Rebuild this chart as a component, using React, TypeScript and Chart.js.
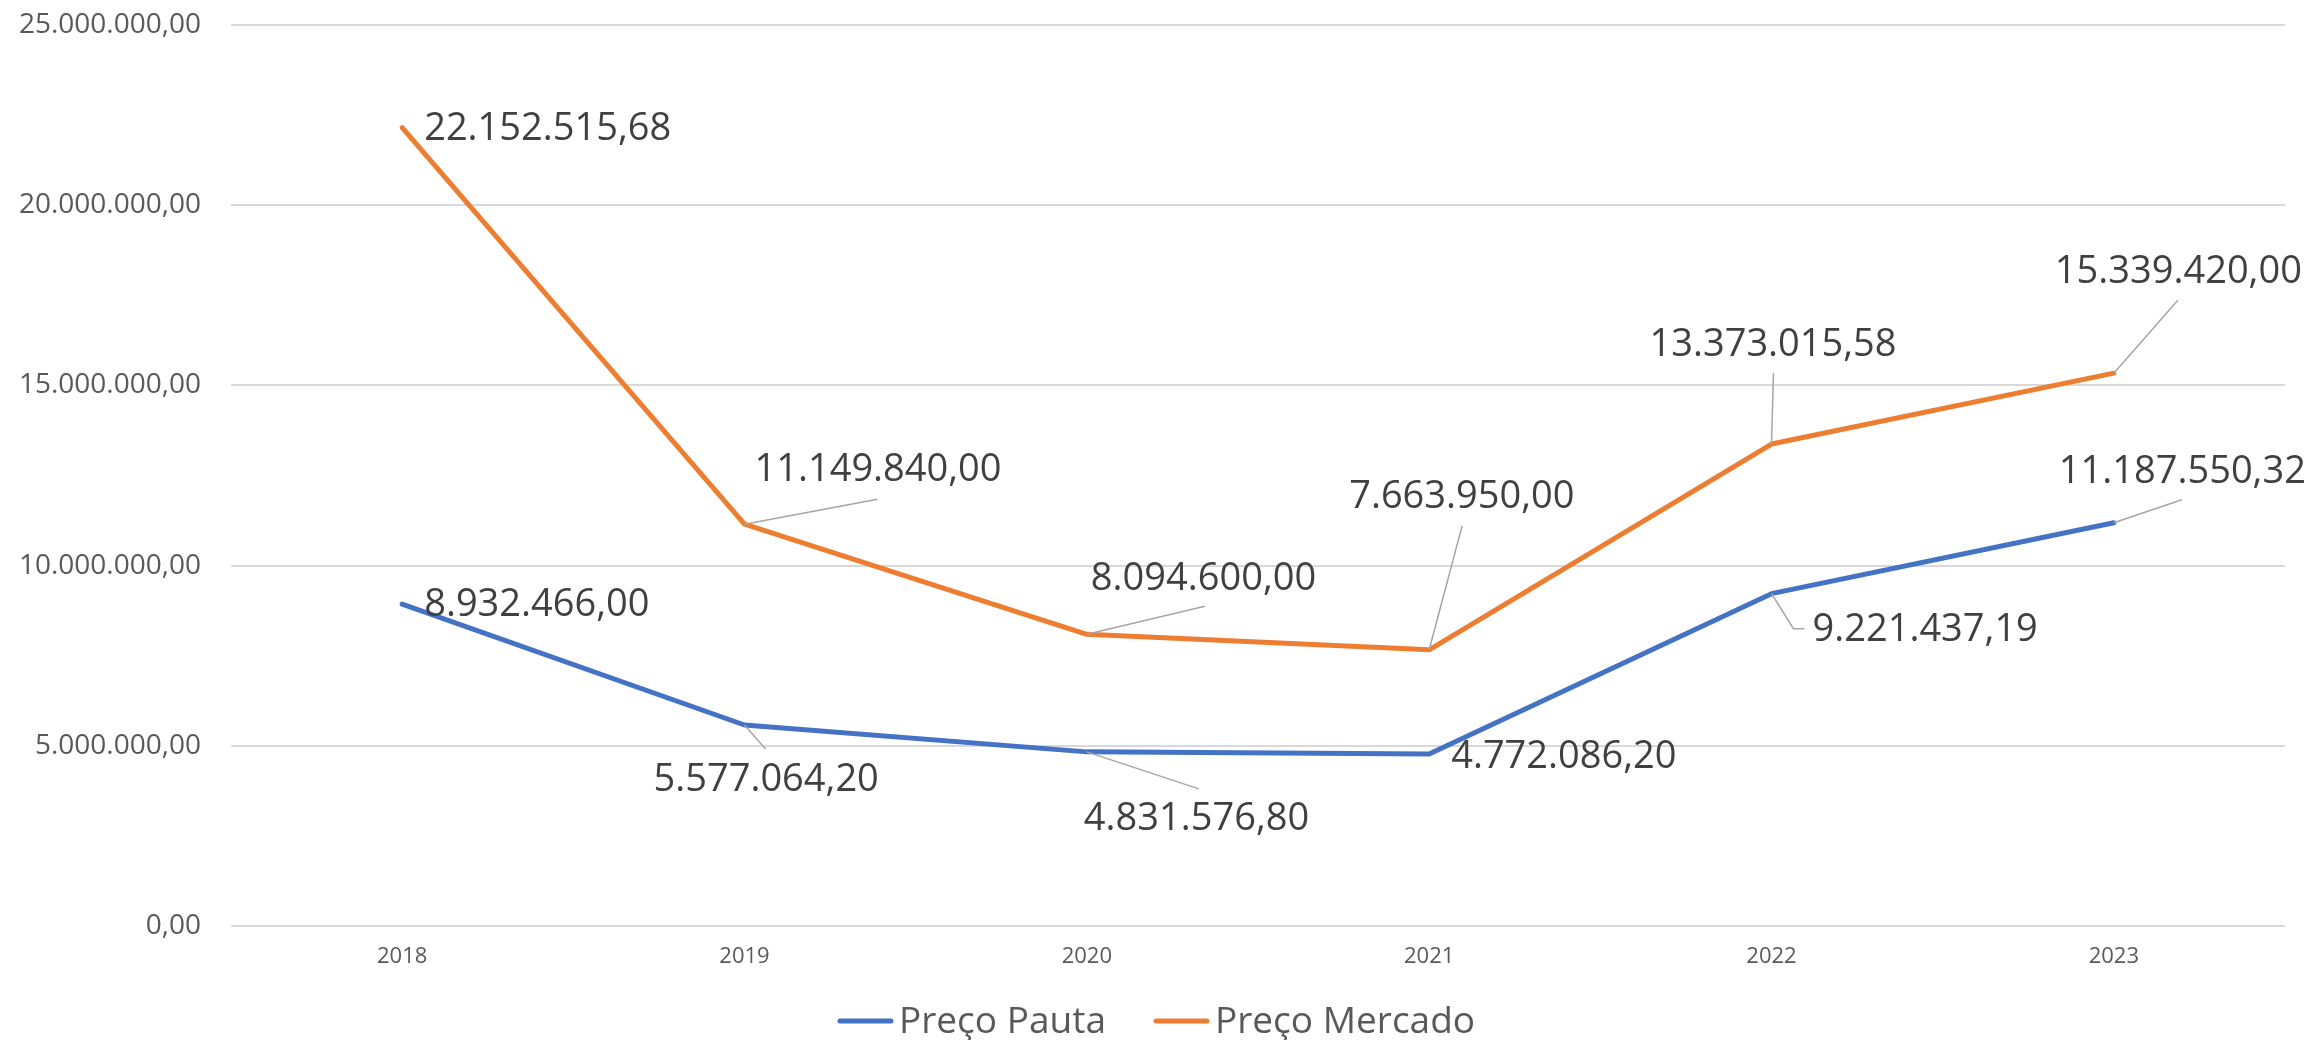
import React, { useEffect, useRef } from "react";
import { Chart, registerables } from "chart.js";

Chart.register(...registerables);

// ---- data ----
const years = ["2018", "2019", "2020", "2021", "2022", "2023"];
const precoPauta = [8932466.0, 5577064.2, 4831576.8, 4772086.2, 9221437.19, 11187550.32];
const precoMercado = [22152515.68, 11149840.0, 8094600.0, 7663950.0, 13373015.58, 15339420.0];
const seriesNames = ["Preço Pauta", "Preço Mercado"];
const yTickValues = [0, 5000000, 10000000, 15000000, 20000000, 25000000];

// ---- label placement (pixel offsets from each point) ----
type Place = { dx: number; dy: number; leader?: number[][] };
const pautaPlaces: Place[] = [
  { dx: 22, dy: 1 },
  { dx: -91, dy: 55, leader: [[21, 24]] },
  { dx: -3, dy: 67, leader: [[112, 37]] },
  { dx: 22, dy: 3 },
  { dx: 41, dy: 37, leader: [[22, 35], [33, 35]] },
  { dx: -55, dy: -51, leader: [[68, -23]] },
];
const mercadoPlaces: Place[] = [
  { dx: 22, dy: 2 },
  { dx: 10, dy: -54, leader: [[133, -25]] },
  { dx: 4, dy: -55, leader: [[118, -28]] },
  { dx: -80, dy: -153, leader: [[33, -124]] },
  { dx: -122, dy: -99, leader: [[2, -71]] },
  { dx: -59, dy: -101, leader: [[64, -73]] },
];

const FONT = '"Open Sans", "Noto Sans", sans-serif';
const BLUE = "#4472C4";
const ORANGE = "#ED7D31";

function fmt(v: number): string {
  const [i, d] = v.toFixed(2).split(".");
  return i.replace(/\B(?=(\d{3})+(?!\d))/g, ".") + "," + d;
}

const valueLabels = {
  id: "valueLabels",
  afterDatasetsDraw(chart: any) {
    const ctx = chart.ctx;
    const places = [pautaPlaces, mercadoPlaces];
    ctx.save();
    chart.data.datasets.forEach((ds: any, di: number) => {
      const meta = chart.getDatasetMeta(di);
      meta.data.forEach((pt: any, j: number) => {
        const p = places[di][j];
        const x = pt.x;
        const y = pt.y;
        if (p.leader) {
          ctx.beginPath();
          ctx.moveTo(x, y);
          p.leader.forEach(([lx, ly]) => ctx.lineTo(x + lx, y + ly));
          ctx.strokeStyle = "#a6a6a6";
          ctx.lineWidth = 1.5;
          ctx.stroke();
        }
        ctx.font = `38px ${FONT}`;
        ctx.fillStyle = "#404040";
        ctx.textAlign = "left";
        ctx.textBaseline = "middle";
        ctx.fillText(fmt(ds.data[j]), x + p.dx, y + p.dy);
      });
    });
    ctx.restore();
  },
};

const bottomLegend = {
  id: "bottomLegend",
  afterDraw(chart: any) {
    const ctx = chart.ctx;
    const W = chart.width;
    const lineLen = 55;
    const gap = 6;
    const itemGap = 48;
    const baseY = 1033;
    const lineY = 1021;
    ctx.save();
    ctx.font = `37px ${FONT}`;
    const items = chart.data.datasets.map((ds: any) => ({
      text: ds.label as string,
      color: ds.borderColor as string,
      w: ctx.measureText(ds.label).width,
    }));
    let total = 0;
    items.forEach((it: any, i: number) => {
      total += lineLen + gap + it.w + (i > 0 ? itemGap : 0);
    });
    let x = (W - total) / 2;
    items.forEach((it: any) => {
      ctx.beginPath();
      ctx.moveTo(x + 2, lineY);
      ctx.lineTo(x + lineLen - 2, lineY);
      ctx.strokeStyle = it.color;
      ctx.lineWidth = 5;
      ctx.lineCap = "round";
      ctx.stroke();
      ctx.fillStyle = "#595959";
      ctx.textAlign = "left";
      ctx.textBaseline = "alphabetic";
      ctx.fillText(it.text, x + lineLen + gap, baseY);
      x += lineLen + gap + it.w + itemGap;
    });
    ctx.restore();
  },
};

export default function App() {
  const canvasRef = useRef<HTMLCanvasElement | null>(null);

  useEffect(() => {
    const canvas = canvasRef.current;
    if (!canvas) return;
    const chart = new Chart(canvas, {
      type: "line",
      data: {
        labels: years,
        datasets: [
          {
            label: seriesNames[0],
            data: precoPauta,
            borderColor: BLUE,
            backgroundColor: BLUE,
            borderWidth: 5,
            pointRadius: 0,
            tension: 0,
            borderJoinStyle: "round",
            borderCapStyle: "round",
            clip: false as any,
          },
          {
            label: seriesNames[1],
            data: precoMercado,
            borderColor: ORANGE,
            backgroundColor: ORANGE,
            borderWidth: 5,
            pointRadius: 0,
            tension: 0,
            borderJoinStyle: "round",
            borderCapStyle: "round",
            clip: false as any,
          },
        ],
      },
      options: {
        animation: false,
        responsive: true,
        maintainAspectRatio: false,
        layout: {
          autoPadding: false,
          padding: { top: 25, right: 28, left: 0, bottom: 0 },
        },
        plugins: {
          legend: { display: false },
          tooltip: { enabled: false },
        },
        scales: {
          x: {
            offset: true,
            grid: { display: false, drawTicks: false },
            border: { display: false },
            ticks: {
              color: "#595959",
              font: { family: FONT, size: 22 },
              padding: 18,
              maxRotation: 0,
            },
            afterFit: (s: any) => {
              s.height = 114;
              s.paddingLeft = 0;
              s.paddingRight = 0;
            },
          },
          y: {
            min: 0,
            max: 25000000,
            grid: { color: "#d9d9d9", lineWidth: 2, drawTicks: false },
            border: { display: false },
            afterBuildTicks: (s: any) => {
              s.ticks = yTickValues.map((v) => ({ value: v }));
            },
            ticks: {
              color: "#595959",
              font: { family: FONT, size: 28 },
              padding: 30,
              callback: (v: any) => fmt(Number(v)),
            },
            afterFit: (s: any) => {
              s.width = 231;
              s.paddingTop = 0;
              s.paddingBottom = 0;
            },
          },
        },
      },
      plugins: [valueLabels, bottomLegend],
    });
    return () => chart.destroy();
  }, []);

  return (
    <div
      style={{
        position: "fixed",
        left: 0,
        top: 0,
        width: "2313px",
        height: "1040px",
        background: "#ffffff",
      }}
    >
      <canvas ref={canvasRef} />
    </div>
  );
}
